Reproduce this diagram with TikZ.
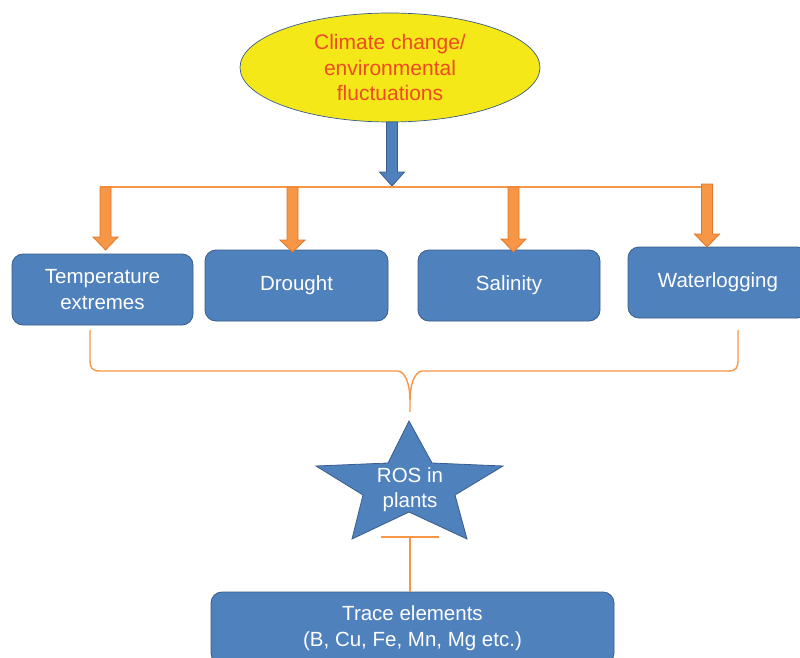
\documentclass[tikz,border=0pt]{standalone}
\usepackage{fontspec}
\setmainfont{Liberation Sans}
\usetikzlibrary{shapes.geometric}
\definecolor{boxblue}{RGB}{79,129,189}
\definecolor{boxedge}{RGB}{56,93,138}
\definecolor{accent}{RGB}{247,150,70}
\definecolor{accentedge}{RGB}{226,118,40}
\definecolor{sunyellow}{RGB}{245,232,25}
\definecolor{titlered}{RGB}{238,74,36}

% downward block arrow: x, top y, head start y, tip y, fill, edge
\newcommand{\blockdown}[6]{%
  \filldraw[fill=#5, draw=#6, line width=0.8pt]
    (#1-5.5,#2) -- (#1+5.5,#2) -- (#1+5.5,#3) -- (#1+12.5,#3) -- (#1,#4)
    -- (#1-12.5,#3) -- (#1-5.5,#3) -- cycle;}

\begin{document}
\begin{tikzpicture}[x=1pt,y=-1pt,
  stressbox/.style={draw=boxedge, line width=0.8pt, fill=boxblue,
    rounded corners=11pt, minimum width=181pt, minimum height=71pt,
    text=white, font=\fontsize{20.5}{25.5}\selectfont, align=center, inner sep=0pt},
  link/.style={draw=accent, line width=1.6pt},
  bracket/.style={draw=accent, line width=1.4pt},
]
\useasboundingbox (0,0) rectangle (800,658);
\clip (0,0) rectangle (800,658);

% source of stress
\node[ellipse, draw=boxedge, line width=0.7pt, fill=sunyellow,
      minimum width=300pt, minimum height=109pt, inner sep=0pt,
      text=titlered, align=center, font=\fontsize{21}{25.5}\selectfont]
  (climate) at (390,67.5) {Climate change/\\environmental\\fluctuations};

% stress factors
\node[stressbox] (temp)  at (102.5,289.5) {Temperature\\extremes};
\node[stressbox, minimum width=183pt] (drought) at (296.5,285.5) {Drought};
\node[stressbox, minimum width=182pt] (salt)    at (509,285.5)   {Salinity};
\node[stressbox, minimum width=180pt] (water)   at (718,282.5)   {Waterlogging};

% main arrow and distribution line
\blockdown{392}{122}{172}{186}{boxblue}{boxedge}
\coordinate (splitL) at (100,187);
\coordinate (splitR) at (705,187);
\draw[link] (splitL) -- (splitR);

\blockdown{105.5}{187}{237}{250}{accent}{accentedge}
\blockdown{292.5}{187}{240}{252}{accent}{accentedge}
\blockdown{513.5}{187}{239}{252}{accent}{accentedge}
\blockdown{707}{184}{234}{247}{accent}{accentedge}

% bracket gathering the stresses
\coordinate (bl) at (90,330);
\coordinate (br) at (738,330);
\coordinate (cusp) at (410,400);
\coordinate (stem) at (410,412);
\draw[bracket] (bl) -- (90,360) .. controls (90,368) and (92,371) .. (100,371)
  -- (398,371) .. controls (406,372) and (410,386) .. (cusp) -- (stem);
\draw[bracket] (br) -- (738,360) .. controls (738,368) and (736,371) .. (728,371)
  -- (422,371) .. controls (414,372) and (410,386) .. (cusp);

% reactive oxygen species star
\filldraw[fill=boxblue, draw=boxedge, line width=0.8pt]
  (409,421) -- (432,463) -- (503,466) -- (455,495) -- (467,539)
  -- (409,512) -- (352,539) -- (363,495) -- (316,466) -- (388,463) -- cycle;
\node[text=white, align=center, font=\fontsize{20.5}{25}\selectfont,
      inner sep=0pt] (ros) at (410,489.5) {ROS in\\plants};

% trace elements box
\node[stressbox, minimum width=403pt, minimum height=72pt] (trace)
  at (412.5,628) {Trace elements\\(B, Cu, Fe, Mn, Mg etc.)};

% inhibition link
\coordinate (barmid) at (410,537);
\draw[link] (381,537) -- (439,537);
\draw[link] (trace.north -| barmid) -- (barmid);
\end{tikzpicture}
\end{document}
